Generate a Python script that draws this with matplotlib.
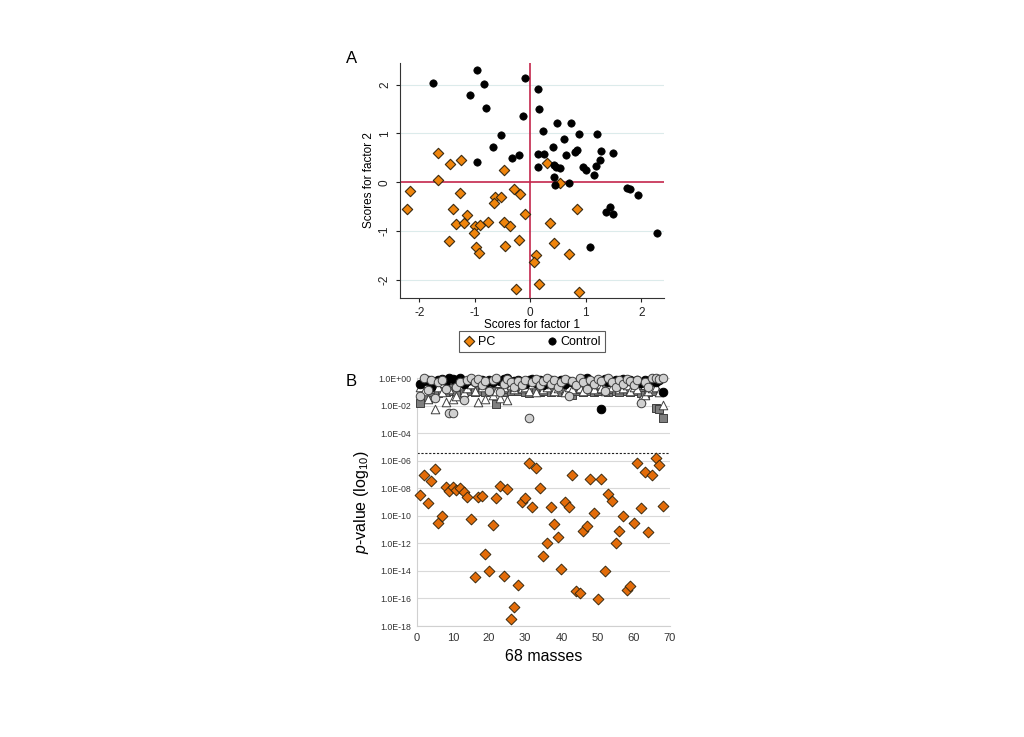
import numpy as np
import matplotlib
matplotlib.use('Agg')
import matplotlib.pyplot as plt
from matplotlib.ticker import FixedLocator, FuncFormatter

plt.rcParams['font.family'] = ['Liberation Sans', 'DejaVu Sans']
plt.rcParams['axes.unicode_minus'] = False
plt.rcParams['mathtext.fontset'] = 'custom'
plt.rcParams['mathtext.it'] = 'Liberation Sans:italic'
plt.rcParams['mathtext.rm'] = 'Liberation Sans'

# Panel A: factor scores
pc_f1 = [-1.66, -1.25, -1.44, -1.67, -0.48, 0.31, 0.53, -2.17, -2.23, -1.26,
         -1.39, -1.14, -1.34, -1.19, -0.99, -0.91, -1.01, -0.77, -1.46, -0.98,
         -0.92, -0.63, -0.66, -0.53, -0.30, -0.19, -0.09, -0.48, -0.37, -0.46,
         -0.20, -0.25, 0.10, 0.07, 0.16, 0.36, 0.43, 0.70, 0.84, 0.88]
pc_f2 = [0.60, 0.46, 0.37, 0.04, 0.24, 0.39, -0.01, -0.19, -0.54, -0.23,
         -0.54, -0.67, -0.85, -0.84, -0.90, -0.88, -1.04, -0.82, -1.20, -1.33,
         -1.44, -0.31, -0.42, -0.30, -0.14, -0.24, -0.65, -0.82, -0.90, -1.31,
         -1.18, -2.18, -1.50, -1.64, -2.08, -0.83, -1.24, -1.47, -0.55, -2.24]
ctrl_f1 = [-1.76, -0.96, -0.84, -1.09, -0.80, -0.10, 0.14, 0.15, -0.14, -0.52,
           -0.67, -0.97, -0.33, -0.20, 0.22, 0.49, 0.73, 0.61, 0.88, 1.21,
           0.13, 0.24, 0.41, 0.65, 0.80, 0.84, 1.27, 1.25, 1.50, 0.14,
           0.42, 0.47, 0.54, 0.42, 0.45, 0.70, 0.95, 1.00, 1.18, 1.14,
           1.74, 1.79, 1.95, 1.44, 1.36, 1.50, 2.28, 1.08]
ctrl_f2 = [2.03, 2.30, 2.01, 1.78, 1.52, 2.14, 1.90, 1.49, 1.36, 0.97,
           0.73, 0.42, 0.50, 0.56, 1.04, 1.22, 1.22, 0.88, 0.99, 0.99,
           0.58, 0.58, 0.73, 0.55, 0.62, 0.66, 0.64, 0.45, 0.60, 0.32,
           0.35, 0.32, 0.30, 0.10, -0.05, -0.02, 0.31, 0.24, 0.33, 0.15,
           -0.11, -0.14, -0.27, -0.50, -0.60, -0.65, -1.03, -1.32]

# Panel B: log10 p-values for the 68 masses
masses = np.arange(1, 69)
pc_logp = [-8.48, -7.03, -9.08, -7.44, -6.61, -10.54, -10.0, -7.92, -8.16, -7.87,
           -8.12, -7.99, -8.24, -8.65, -10.25, -14.46, -8.6, -8.53, -12.77, -13.98,
           -10.66, -8.67, -7.82, -14.37, -8.07, -17.51, -16.59, -15.04, -8.96, -8.72,
           -6.18, -9.37, -6.54, -7.99, -12.91, -11.99, -9.37, -10.59, -11.56, -13.88,
           -8.96, -9.33, -7.05, -15.43, -15.63, -11.07, -10.71, -7.29, -9.76, -16.01,
           -7.34, -14.0, -8.41, -8.89, -11.99, -11.07, -10.0, -15.38, -15.09, -10.49,
           -6.13, -9.4, -6.81, -11.19, -7.03, -5.81, -6.3, -9.25]
black_logp = [-0.45, -0.2, -0.1, -0.6, -0.3, -0.1, -0.05, -0.2, 0.0, -0.05,
              -0.1, 0.0, -0.4, -0.2, -0.1, -0.3, -0.2, -0.1, -0.45, -0.15,
              -0.3, -0.1, -0.2, -0.05, 0.0, -0.3, -0.2, -0.1, -0.25, -0.4,
              -0.15, -0.05, -0.35, -0.1, -0.5, -0.2, -0.1, -0.3, -0.5, -0.15,
              -0.4, -0.2, -0.3, -0.45, -0.1, -0.05, 0.0, -0.2, -0.3, -0.1,
              -2.25, -0.05, -0.3, -0.2, -0.1, -0.3, -0.05, -0.2, -0.15, -0.3,
              -0.1, -0.35, -0.1, -0.2, -0.05, -0.3, -0.15, -1.0]
grey_logp = [-1.3, 0.0, -0.85, -0.15, -1.45, -0.3, -0.1, -0.8, -2.55, -2.55,
             -0.6, -0.25, -1.6, -0.1, 0.0, -0.3, -0.05, -0.5, -0.2, -0.9,
             -0.1, 0.0, -1.0, -0.4, -0.05, -0.3, -0.6, -0.2, -0.5, -0.1,
             -2.9, -0.3, -0.05, -0.5, -0.2, 0.0, -0.4, -0.1, -0.6, -0.3,
             -0.05, -1.3, -0.2, -0.5, 0.0, -0.3, -0.8, -0.1, -0.4, -0.05,
             -0.2, -0.9, 0.0, -0.3, -0.6, -0.1, -0.4, -0.05, -0.2, -0.5,
             -0.1, -1.8, -0.3, -0.6, 0.0, 0.0, -0.05, 0.0]
tri_logp = [-0.6, -0.9, -1.5, -0.4, -2.2, -0.6, -1.0, -1.75, -0.8, -1.5,
            -1.3, -0.5, -1.0, -0.7, -0.4, -0.9, -1.75, -0.6, -1.5, -0.8,
            -1.2, -0.9, -1.4, -0.6, -1.6, -0.5, -0.8, -0.3, -0.7, -0.6,
            -0.9, -0.4, -1.0, -0.5, -0.8, -0.6, -0.4, -0.9, -0.7, -0.5,
            -1.0, -0.6, -0.8, -0.4, -0.7, -0.9, -0.5, -0.6, -0.8, -0.4,
            -0.7, -0.9, -0.5, -0.6, -0.3, -0.8, -0.7, -0.5, -0.9, -0.6,
            -0.8, -1.5, -1.2, -0.9, -0.7, -0.6, -1.0, -1.95]
sq_logp = [-1.8, -0.9, -1.5, -1.0, -0.8, -1.1, -0.9, -1.0, -0.7, -0.9,
           -1.1, -1.2, -0.9, -0.8, -0.9, -1.0, -0.8, -0.9, -1.0, -0.8,
           -0.9, -1.85, -0.9, -1.0, -0.8, -0.9, -0.7, -0.9, -0.8, -1.0,
           -1.1, -0.9, -0.8, -1.0, -0.9, -0.8, -1.0, -0.9, -0.8, -1.0,
           -0.9, -1.1, -1.2, -0.9, -0.8, -1.0, -0.9, -0.8, -1.0, -0.9,
           -0.8, -0.9, -1.0, -0.8, -0.9, -1.0, -0.8, -0.9, -1.0, -0.8,
           -0.9, -1.1, -1.2, -1.0, -0.9, -2.15, -2.25, -2.85]
cutoff = 3.5e-6

fig = plt.figure(figsize=(10.24, 7.37), dpi=100)

# ---- Panel A ----
ax1 = fig.add_axes([0.3906, 0.5957, 0.2578, 0.3188])
for yv in [-2, -1, 1, 2]:
    ax1.axhline(yv, color='#dcebeb', lw=0.8, zorder=0)
ax1.axhline(0, color='#c3264b', lw=1.2, zorder=1)
ax1.axvline(0, color='#c3264b', lw=1.2, zorder=1)
ax1.scatter(pc_f1, pc_f2, marker='D', s=28, c='#f0850c', edgecolors='#3a2a10',
            linewidths=0.8, zorder=3, label='PC')
ax1.scatter(ctrl_f1, ctrl_f2, marker='o', s=28, c='black', edgecolors='black',
            linewidths=0.5, zorder=3, label='Control')
ax1.set_xlim(-2.35, 2.41)
ax1.set_ylim(-2.37, 2.44)
ax1.set_xticks([-2, -1, 0, 1, 2])
ax1.set_yticks([-2, -1, 0, 1, 2])
for s in ['top', 'right']:
    ax1.spines[s].set_visible(False)
ax1.spines['left'].set_color('#333333')
ax1.spines['bottom'].set_color('#333333')
ax1.tick_params(labelsize=8.5, colors='#222222', length=3)
plt.setp(ax1.get_yticklabels(), rotation=90, va='center')
ax1.set_xlabel('Scores for factor 1', fontsize=8.5, labelpad=0)
ax1.set_ylabel('Scores for factor 2', fontsize=8.5, labelpad=3)
fig.text(0.338, 0.915, 'A', fontsize=12)
leg = ax1.legend(loc='upper center', bbox_to_anchor=(0.5, -0.115), ncol=2,
                 frameon=True, fancybox=False, fontsize=9, handletextpad=0.2,
                 handlelength=1.0, columnspacing=4.0, borderpad=0.35,
                 markerscale=1.0)
leg.get_frame().set_edgecolor('#333333')
leg.get_frame().set_linewidth(0.8)

# ---- Panel B ----
ax2 = fig.add_axes([0.4069, 0.1506, 0.2474, 0.3361])
ax2.set_yscale('log')
ax2.set_xlim(0, 70)
ax2.set_ylim(1e-18, 1e0)
decades = np.arange(-18, 1, 2)
ax2.yaxis.set_major_locator(FixedLocator(10.0 ** decades))
ax2.yaxis.set_minor_locator(FixedLocator([]))
ax2.yaxis.set_major_formatter(FuncFormatter(lambda v, p: '1.0E%+03d' % round(np.log10(v))))
ax2.set_xticks(np.arange(0, 71, 10))
ax2.grid(axis='y', color='#d9d9d9', lw=0.8)
ax2.set_axisbelow(True)
for s in ['top', 'right']:
    ax2.spines[s].set_visible(False)
ax2.spines['left'].set_color('#d0d0d0')
ax2.spines['bottom'].set_color('#d0d0d0')
ax2.tick_params(axis='y', labelsize=6.3, length=0, colors='#333333', pad=4)
ax2.tick_params(axis='x', labelsize=8, length=0, colors='#333333', pad=5)
ax2.axhline(cutoff, color='#222222', lw=0.8, ls=(0, (2, 1.5)))

ms = 38
ax2.scatter(masses, 10.0 ** np.array(sq_logp), marker='s', s=ms, c='#7f7f7f',
            edgecolors='#404040', linewidths=0.7, zorder=3, clip_on=False)
ax2.scatter(masses, 10.0 ** np.array(tri_logp), marker='^', s=ms, c='white',
            edgecolors='#404040', linewidths=0.7, zorder=4, clip_on=False)
ax2.scatter(masses, 10.0 ** np.array(black_logp), marker='o', s=ms, c='black',
            edgecolors='black', linewidths=0.7, zorder=5, clip_on=False)
ax2.scatter(masses, 10.0 ** np.array(grey_logp), marker='o', s=ms, c='#d0d0d0',
            edgecolors='#404040', linewidths=0.7, zorder=6, clip_on=False)
ax2.scatter(masses, 10.0 ** np.array(pc_logp), marker='D', s=30, c='#e36c09',
            edgecolors='#3a2a10', linewidths=0.7, zorder=7, clip_on=False)
ax2.set_xlabel('68 masses', fontsize=11.5, labelpad=4)
ax2.set_ylabel('$p$-value (log$_{10}$)', fontsize=11.5, labelpad=5)
fig.text(0.338, 0.476, 'B', fontsize=12)

fig.savefig('out.png', dpi=100)
